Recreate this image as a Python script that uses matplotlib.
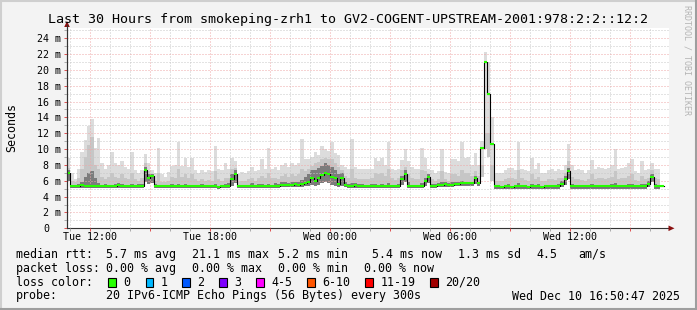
import numpy as np
import matplotlib
matplotlib.use("Agg")
import matplotlib.pyplot as plt
from matplotlib.patches import Rectangle, Polygon
from matplotlib.lines import Line2D
from matplotlib.transforms import blended_transform_factory

nan = float("nan")

# ---- data: one value per 10-minute slot, starting Tue 10:51 (ms) ----
median_ms = [
    7.0, 5.3, 5.3, 5.4, 5.5, 5.4, 5.3, 5.4, 5.4, 5.3,
    5.3, 5.4, 5.3, 5.3, 5.4, 5.5, 5.4, 5.3, 5.3, 5.3,
    5.3, 5.4, 5.4, 7.3, 6.3, 6.6, 5.4, 5.3, 5.3, 5.3,
    5.3, 5.4, 5.3, 5.3, 5.3, 5.4, 5.3, 5.3, 5.3, 5.3,
    5.4, 5.3, 5.3, 5.3, 5.3, 5.2, 5.3, 5.3, 5.4, 6.2,
    6.9, 5.3, 5.3, 5.3, 5.3, 5.4, 5.3, 5.3, 5.3, 5.3,
    5.3, 5.3, 5.4, 5.4, 5.5, 5.5, 5.5, 5.5, 5.6, 5.5,
    5.6, 5.7, 5.8, 6.4, 6.0, 6.3, 6.7, 7.0, 6.8, 6.5,
    6.3, 5.6, 6.4, 5.5, 5.4, 5.4, 5.5, 5.4, 5.4, 5.3,
    5.3, 5.4, 5.3, 5.3, 5.3, 5.3, 5.4, 5.3, 5.3, 5.4,
    6.2, 6.9, 5.4, 5.3, 5.3, 5.3, 5.4, 6.0, 6.5, 5.4,
    5.4, 5.5, 5.5, 5.6, 5.5, 5.5, 5.6, 5.6, 5.7, 5.7,
    5.7, 5.7, 6.3, 5.7, 10.1, 21.0, 17.0, 10.7, 5.3, 5.3,
    5.2, 5.3, 5.3, 5.2, 5.3, 5.3, 5.3, 5.3, 5.2, 5.3,
    5.3, 5.3, 5.2, 5.3, 5.3, 5.3, 5.3, 5.3, 5.6, 6.2,
    7.2, 5.3, 5.3, 5.3, 5.3, 5.3, 5.3, 5.3, 5.3, 5.3,
    5.3, 5.3, 5.3, 5.3, 5.3, 5.3, 5.3, 5.3, 5.3, 5.3,
    5.3, 5.3, 5.3, 5.4, 5.6, 6.5, 5.3, 5.3, 5.3, nan,
]
ping_max_ms = [
    8.9, 7.0, 6.2, 7.5, 9.6, 11.1, 12.9, 13.8, 10.2, 11.4,
    8.3, 7.5, 8.0, 9.6, 8.3, 8.0, 8.5, 7.8, 7.5, 9.6,
    7.3, 7.0, 7.3, 9.4, 8.2, 7.4, 7.0, 10.1, 6.8, 6.5,
    7.1, 7.9, 8.0, 10.9, 7.9, 8.9, 7.8, 8.9, 7.3, 7.0,
    7.3, 7.1, 7.3, 7.2, 10.4, 7.5, 7.3, 8.3, 7.5, 8.9,
    8.5, 6.8, 7.1, 7.0, 7.2, 7.7, 7.2, 7.4, 8.7, 7.5,
    10.2, 7.5, 7.7, 7.3, 8.0, 8.3, 7.8, 8.3, 8.0, 8.3,
    11.3, 8.7, 8.7, 9.0, 9.6, 9.3, 10.4, 10.0, 9.8, 10.9,
    9.5, 9.2, 8.0, 7.7, 7.5, 11.3, 7.7, 7.5, 7.5, 7.5,
    7.5, 7.5, 8.9, 8.5, 8.9, 8.0, 10.9, 7.5, 7.3, 7.5,
    8.6, 10.0, 8.5, 7.7, 7.5, 7.5, 10.2, 8.9, 7.5, 7.3,
    7.0, 7.2, 10.0, 7.1, 7.0, 8.7, 8.7, 8.5, 10.9, 8.9,
    9.0, 8.0, 9.5, 8.0, 11.0, 22.3, 21.0, 14.0, 7.0, 7.0,
    7.0, 7.3, 7.6, 7.6, 7.3, 10.9, 7.5, 7.3, 7.2, 8.9,
    7.5, 8.2, 7.0, 7.0, 7.4, 7.5, 7.2, 7.5, 7.4, 8.0,
    10.7, 8.0, 7.4, 7.5, 7.3, 7.0, 7.4, 8.6, 7.5, 7.7,
    7.6, 7.5, 7.6, 8.0, 10.0, 7.5, 7.6, 7.7, 8.3, 8.8,
    7.2, 7.0, 8.5, 7.4, 7.5, 8.3, 7.5, 7.5, 10.1, nan,
]
ping_hi_ms = [
    7.6, 6.0, 5.8, 6.3, 7.5, 9.0, 10.5, 11.5, 8.0, 7.5,
    6.5, 6.2, 6.5, 7.0, 6.5, 6.3, 6.8, 6.3, 6.2, 7.0,
    6.2, 6.0, 6.3, 8.2, 7.2, 6.8, 6.0, 7.0, 5.9, 5.8,
    6.0, 6.5, 6.3, 7.5, 6.5, 6.8, 6.3, 6.8, 6.2, 6.0,
    6.2, 6.0, 6.1, 6.0, 7.2, 6.2, 6.0, 6.4, 6.3, 7.5,
    7.6, 5.9, 6.0, 6.0, 6.2, 6.4, 6.0, 6.3, 6.6, 6.3,
    7.0, 6.3, 6.4, 6.2, 6.6, 6.8, 6.5, 6.8, 6.6, 6.8,
    7.5, 7.2, 7.5, 7.9, 8.2, 8.4, 8.8, 8.9, 8.7, 8.8,
    8.3, 7.8, 7.4, 6.6, 6.3, 7.5, 6.4, 6.2, 6.2, 6.2,
    6.2, 6.3, 7.0, 6.8, 7.0, 6.6, 7.5, 6.3, 6.1, 6.3,
    7.3, 7.8, 6.8, 6.3, 6.2, 6.2, 7.3, 7.2, 6.6, 6.2,
    6.0, 6.2, 7.2, 6.2, 6.0, 6.8, 6.8, 6.6, 7.4, 7.0,
    7.0, 6.6, 7.2, 6.6, 8.0, 12.0, 12.0, 8.0, 6.0, 6.0,
    6.0, 6.2, 6.4, 6.3, 6.2, 7.3, 6.3, 6.1, 6.0, 6.8,
    6.2, 6.5, 6.0, 6.0, 6.2, 6.2, 6.1, 6.3, 6.3, 7.0,
    8.5, 6.5, 6.2, 6.2, 6.1, 6.0, 6.2, 6.8, 6.2, 6.3,
    6.3, 6.2, 6.3, 6.5, 7.2, 6.2, 6.3, 6.4, 6.6, 6.8,
    6.1, 6.0, 6.6, 6.2, 6.4, 7.3, 6.3, 6.2, 7.0, nan,
]
ping_dark_ms = [
    7.3, 5.5, 5.4, 5.6, 5.8, 6.5, 7.0, 7.2, 6.3, 5.7,
    5.5, 5.6, 5.5, 5.5, 5.6, 5.7, 5.6, 5.5, 5.5, 5.6,
    5.5, 5.6, 5.6, 7.8, 6.8, 6.9, 5.6, 5.5, 5.4, 5.4,
    5.5, 5.6, 5.5, 5.6, 5.5, 5.6, 5.5, 5.5, 5.5, 5.5,
    5.6, 5.5, 5.5, 5.5, 5.6, 5.4, 5.5, 5.6, 5.7, 6.8,
    7.3, 5.5, 5.5, 5.5, 5.5, 5.7, 5.5, 5.6, 5.6, 5.5,
    5.6, 5.5, 5.7, 5.6, 5.8, 5.8, 5.7, 5.8, 5.9, 5.8,
    6.1, 6.5, 6.8, 7.3, 7.3, 7.6, 7.9, 8.2, 8.0, 7.8,
    7.4, 6.9, 7.0, 5.9, 5.6, 5.7, 5.7, 5.6, 5.6, 5.5,
    5.5, 5.6, 5.6, 5.5, 5.6, 5.5, 5.7, 5.5, 5.5, 5.6,
    6.6, 7.3, 5.8, 5.5, 5.5, 5.5, 5.7, 6.4, 6.9, 5.6,
    5.6, 5.7, 5.8, 5.8, 5.7, 5.8, 5.9, 5.8, 6.0, 5.9,
    5.9, 5.9, 6.6, 5.9, 6.5, 10.0, 9.0, 6.0, 5.5, 5.5,
    5.4, 5.5, 5.6, 5.4, 5.5, 5.7, 5.5, 5.5, 5.4, 5.6,
    5.5, 5.6, 5.4, 5.5, 5.5, 5.5, 5.5, 5.6, 6.0, 6.6,
    7.6, 5.6, 5.5, 5.5, 5.5, 5.5, 5.5, 5.6, 5.5, 5.5,
    5.5, 5.5, 5.5, 5.6, 5.7, 5.5, 5.5, 5.5, 5.6, 5.6,
    5.5, 5.5, 5.6, 5.6, 6.0, 6.9, 5.6, 5.5, 5.7, nan,
]
ping_min_ms = [
    6.0, 5.1, 5.1, 5.1, 5.1, 5.1, 5.1, 5.1, 5.1, 5.1,
    5.1, 5.1, 5.1, 5.1, 5.1, 5.1, 5.1, 5.1, 5.1, 5.1,
    5.1, 5.1, 5.1, 5.8, 5.6, 5.7, 5.1, 5.1, 5.1, 5.1,
    5.1, 5.1, 5.1, 5.1, 5.1, 5.1, 5.1, 5.1, 5.1, 5.1,
    5.1, 5.1, 5.1, 5.1, 5.1, 5.0, 5.1, 5.1, 5.1, 5.4,
    5.7, 5.1, 5.1, 5.1, 5.1, 5.1, 5.1, 5.1, 5.1, 5.1,
    5.1, 5.1, 5.1, 5.1, 5.2, 5.2, 5.2, 5.2, 5.2, 5.2,
    5.2, 5.3, 5.3, 5.5, 5.4, 5.5, 5.7, 5.9, 5.7, 5.5,
    5.4, 5.2, 5.4, 5.2, 5.1, 5.1, 5.1, 5.1, 5.1, 5.1,
    5.1, 5.1, 5.1, 5.1, 5.1, 5.1, 5.1, 5.1, 5.1, 5.1,
    5.5, 5.9, 5.1, 5.1, 5.1, 5.1, 5.1, 5.4, 5.7, 5.1,
    5.1, 5.2, 5.2, 5.2, 5.2, 5.2, 5.3, 5.3, 5.3, 5.3,
    5.3, 5.3, 5.6, 5.3, 6.5, 10.0, 9.0, 6.0, 5.0, 5.0,
    5.0, 5.0, 5.0, 5.0, 5.0, 5.0, 5.0, 5.0, 5.0, 5.0,
    5.0, 5.0, 5.0, 5.0, 5.0, 5.0, 5.0, 5.0, 5.2, 5.5,
    6.2, 5.0, 5.0, 5.0, 5.0, 5.0, 5.0, 5.0, 5.0, 5.0,
    5.0, 5.0, 5.0, 5.0, 5.0, 5.0, 5.0, 5.0, 5.0, 5.0,
    5.0, 5.0, 5.0, 5.0, 5.2, 5.8, 5.0, 5.0, 5.0, nan,
]

time_labels = ["Tue 12:00", "Tue 18:00", "Wed 00:00", "Wed 06:00", "Wed 12:00"]
ytick_values = [0, 2, 4, 6, 8, 10, 12, 14, 16, 18, 20, 22, 24]
loss_labels = ["0", "1", "2", "3", "4-5", "6-10", "11-19", "20/20"]
loss_colors = ["#26ff00", "#00b8ff", "#0059ff", "#7e00ff", "#ff00ff",
               "#ff5500", "#ff0000", "#a10000"]

title = "Last 30 Hours from smokeping-zrh1 to GV2-COGENT-UPSTREAM-2001:978:2:2::12:2"
stats_rtt = ["5.7 ms avg", "21.1 ms max", "5.2 ms min", "5.4 ms now",
             "1.3 ms sd", "4.5", "am/s"]
stats_loss = ["0.00 % avg", "0.00 % max", "0.00 % min", "0.00 % now"]
probe_text = "20 IPv6-ICMP Echo Pings (56 Bytes) every 300s"
stamp_text = "Wed Dec 10 16:50:47 2025"

# ---- geometry ----
W, H, DPI = 697, 310, 100
MONO = "DejaVu Sans Mono"
START_MIN = 51          # start at 10:51
SLOT_H = 10 / 60.0
N = len(median_ms)

fig = plt.figure(figsize=(W / DPI, H / DPI), dpi=DPI)
fig.patch.set_facecolor("#f3f3f3")

x0, x1 = 67, 669
ybot, ytop = 228.3, 27.9
ax = fig.add_axes([x0 / W, (H - ybot) / H, (x1 - x0) / W, (ybot - ytop) / H])
ax.set_facecolor("white")
ax.set_xlim(0, (x1 - x0) / 20.0)
ax.set_ylim(0, 25.3)

edges = np.arange(N + 1) * SLOT_H
def ext(a):
    a = np.asarray(a, dtype=float)
    return np.append(a, a[-1])

ax.fill_between(edges, ext(ping_min_ms), ext(ping_max_ms), step="post",
                color="#dcdcdc", lw=0, zorder=1)
ax.fill_between(edges, ext(ping_min_ms), ext(ping_hi_ms), step="post",
                color="#c6c6c6", lw=0, zorder=1.1)
ax.fill_between(edges, ext(ping_min_ms), ext(ping_dark_ms), step="post",
                color="#7c7c7c", lw=0, zorder=1.2)

med = np.asarray(median_ms, dtype=float)
ax.step(edges, ext(med), where="post", color="black", lw=0.8, zorder=3)
ok = ~np.isnan(med)
ax.hlines(med[ok], edges[:-1][ok], edges[1:][ok], color="#26ff00", lw=1.5, zorder=4)

# ---- grid & ticks ----
first_hour = (60 - START_MIN) / 60.0
hours = []
h = first_hour
k = 0
while h < (x1 - x0) / 20.0:
    hours.append((h, (11 + k) % 24))
    h += 1
    k += 1
xmaj = [p for p, c in hours if c % 3 == 0]
xmin = [p for p, c in hours if c % 3 != 0]
xlab_pos = [p for p, c in hours if c % 6 == 0]
ax.set_xticks(xmaj)
ax.set_xticks(xmin, minor=True)
ax.set_xticklabels([""] * len(xmaj))
ax.set_yticks(ytick_values)
ax.set_yticks([v + 1 for v in ytick_values], minor=True)
ax.set_yticklabels([])

dots = (0, (1, 2))
ax.grid(which="major", color="#eea8a8", ls=dots, lw=0.72)
ax.grid(which="minor", color="#c8c8c8", ls=dots, lw=0.72)
ax.set_axisbelow(False)
ax.tick_params(which="major", direction="out", length=2, width=0.7, color="#de5050")
ax.tick_params(which="minor", direction="out", length=2, width=0.7, color="#aaaaaa")
for s in ("top", "right"):
    ax.spines[s].set_visible(False)
for s in ("left", "bottom"):
    ax.spines[s].set_color("#333333")
    ax.spines[s].set_linewidth(0.8)

fs_axis = 7.2
tr_x = blended_transform_factory(ax.transData, fig.transFigure)
for p, lab in zip(xlab_pos, time_labels):
    fig.text(0, 0, lab, transform=tr_x, family=MONO, size=fs_axis,
             ha="center", va="baseline").set_position((p, 1 - 240.0 / H))
tr_y = blended_transform_factory(fig.transFigure, ax.transData)
for v in ytick_values:
    if v == 0:
        fig.text(43 / W, v, "0", transform=tr_y, family=MONO, size=fs_axis,
                 ha="left", va="center_baseline")
    else:
        fig.text(60.5 / W, v, "%d m" % v, transform=tr_y, family=MONO,
                 size=fs_axis, ha="right", va="center_baseline")

# ---- arrows ----
def fx(px):
    return px / W
def fy(py):
    return 1 - py / H
fig.add_artist(Line2D([fx(67), fx(67)], [fy(ybot), fy(25)], color="#333333", lw=0.8))
fig.add_artist(Polygon([(fx(67), fy(21.0)), (fx(64.2), fy(27)), (fx(69.8), fy(27))],
                       closed=True, fc="#8a1010", ec="none"))
fig.add_artist(Polygon([(fx(674.5), fy(ybot)), (fx(668.5), fy(ybot - 2.8)),
                        (fx(668.5), fy(ybot + 2.8))],
                       closed=True, fc="#8a1010", ec="none"))

# ---- texts ----
fig.text(fx(347.5), fy(23.3), title, family=MONO, size=9.6, ha="center", va="baseline")
fig.text(fx(11.5), fy(127.5), "Seconds", family=MONO, size=8.4, rotation=90,
         ha="center", va="center")
fig.text(fx(687), fy(5), "RRDTOOL / TOBI OETIKER", family=MONO, size=6.0,
         rotation=270, ha="center", va="top", color="#b4b4b4")

fs_leg = 8.4
def ltxt(px, py, s, **kw):
    fig.text(fx(px), fy(py), s, family=MONO, size=fs_leg, ha=kw.pop("ha", "left"),
             va="baseline", **kw)

L1, L2, L3, L4 = 257.7, 271.7, 285.8, 299.5
ltxt(15.5, L1, "median rtt:")
for xp, s in zip([106.5, 192.5, 278.5, 371.5, 458.2, 536.0, 578.5], stats_rtt):
    ltxt(xp, L1, s)
ltxt(15.5, L2, "packet loss:")
for xp, s in zip([106.5, 192.5, 278.5, 364.5], stats_loss):
    ltxt(xp, L2, s)
ltxt(15.5, L3, "loss color:")
box_x = [108.3, 145.7, 182.3, 219.0, 256.0, 307.3, 365.0, 430.0]
lab_x = [122.8, 160.5, 197.2, 233.8, 271.2, 322.2, 380.5, 445.2]
for bx, lx, lab, col in zip(box_x, lab_x, loss_labels, loss_colors):
    fig.add_artist(Rectangle((fx(bx), fy(286.5)), 7.5 / W, 8.5 / H,
                             transform=fig.transFigure, fc=col, ec="black", lw=0.8))
    ltxt(lx, L3, lab)
ltxt(15.5, L4, "probe:")
ltxt(106.5, L4, probe_text)
ltxt(680.5, L4, stamp_text, ha="right")

# ---- 3D frame ----
fig.add_artist(Line2D([0, 1], [fy(0.8), fy(0.8)], color="#cfcfcf", lw=1.5))
fig.add_artist(Line2D([fx(0.8), fx(0.8)], [0, 1], color="#cfcfcf", lw=1.5))
fig.add_artist(Line2D([0, 1], [fy(H - 1), fy(H - 1)], color="#9e9e9e", lw=1.5))
fig.add_artist(Line2D([fx(W - 1), fx(W - 1)], [0, 1], color="#9e9e9e", lw=1.5))

fig.savefig("out.png", dpi=DPI, facecolor=fig.get_facecolor())
